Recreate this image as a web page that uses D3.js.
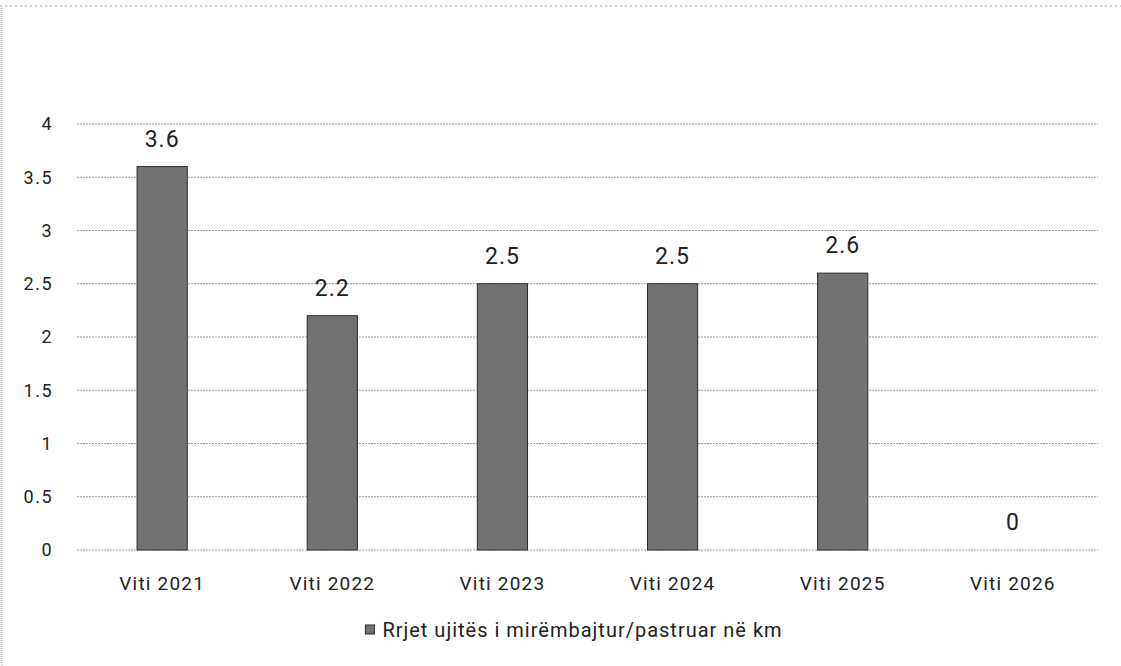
<!DOCTYPE html>
<html>
<head>
<meta charset="utf-8">
<script src="https://cdn.jsdelivr.net/npm/d3@7"></script>
<style>
  body { margin: 0; background: #fff; }
  text { font-family: Roboto, "Noto Sans", sans-serif; fill: #222; }
</style>
</head>
<body>
<div class="canvas"></div>
<script>
// what to show
var categories = ['Viti 2021', 'Viti 2022', 'Viti 2023', 'Viti 2024', 'Viti 2025', 'Viti 2026'],
    values = [3.6, 2.2, 2.5, 2.5, 2.6, 0],
    yTicks = [0, 0.5, 1, 1.5, 2, 2.5, 3, 3.5, 4],
    seriesName = 'Rrjet ujitës i mirëmbajtur/pastruar në km';

// where does it live
var W = 1121, H = 666,
    margin = {top: 124, right: 23, bottom: 116, left: 77},
    width = W - margin.left - margin.right,
    height = H - margin.top - margin.bottom;

var svg = d3.select('.canvas').append('svg')
    .attr('width', W)
    .attr('height', H);

// scan-like frame
svg.append('line')
    .attr('x1', 2).attr('x2', 2).attr('y1', 8).attr('y2', H)
    .attr('stroke', '#888').attr('stroke-dasharray', '1,1');
svg.append('line')
    .attr('x1', 0).attr('x2', W).attr('y1', 6).attr('y2', 6)
    .attr('stroke', '#aaa').attr('stroke-dasharray', '2,3');

var g = svg.append('g')
    .attr('transform', 'translate(' + margin.left + ',' + margin.top + ')');

var x = d3.scaleBand()
    .domain(categories)
    .range([0, width])
    .paddingInner(0.705)
    .paddingOuter(0.353);

var y = d3.scaleLinear()
    .domain([0, 4])
    .range([height, 0]);

// gridlines
g.selectAll('.grid')
    .data(yTicks)
    .enter()
    .append('line')
    .attr('x1', 0)
    .attr('x2', width)
    .attr('y1', function (d) { return y(d); })
    .attr('y2', function (d) { return y(d); })
    .attr('stroke', '#9a9a9a')
    .attr('stroke-width', 1)
    .attr('stroke-dasharray', '2,1');

// y axis labels
var yAxis = g.append('g')
    .call(d3.axisLeft(y).tickValues(yTicks).tickSize(0).tickPadding(0)
        .tickFormat(function (d) { return String(d); }));
yAxis.select('.domain').remove();
yAxis.selectAll('text')
    .attr('x', -24)
    .attr('font-size', 18)
    .attr('letter-spacing', 1.5)
    .attr('font-family', 'Roboto, sans-serif')
    .attr('fill', '#222');

// bars
g.selectAll('.bar')
    .data(values)
    .enter()
    .append('rect')
    .attr('x', function (d, i) { return x(categories[i]); })
    .attr('y', function (d) { return y(d); })
    .attr('width', x.bandwidth())
    .attr('height', function (d) { return height - y(d); })
    .attr('fill', '#727272')
    .attr('stroke', '#2a2a2a')
    .attr('stroke-width', 1);

// value labels
g.selectAll('.val')
    .data(values)
    .enter()
    .append('text')
    .attr('x', function (d, i) { return x(categories[i]) + x.bandwidth() / 2; })
    .attr('y', function (d) { return y(d) - 20; })
    .attr('text-anchor', 'middle')
    .attr('font-size', 23)
    .attr('letter-spacing', 1)
    .text(function (d) { return String(d); });

// x axis labels
var xAxis = g.append('g')
    .attr('transform', 'translate(0,' + height + ')')
    .call(d3.axisBottom(x).tickSize(0).tickPadding(0));
xAxis.select('.domain').remove();
xAxis.selectAll('text')
    .attr('dy', null)
    .attr('y', 40)
    .attr('font-size', 19)
    .attr('letter-spacing', 1.2)
    .attr('font-family', 'Roboto, sans-serif')
    .attr('fill', '#222');

// legend
var legend = svg.append('g')
    .attr('transform', 'translate(' + (W / 2) + ',' + 637 + ')');
var legendText = legend.append('text')
    .attr('x', 22)
    .attr('y', 0)
    .attr('text-anchor', 'middle')
    .attr('font-size', 20)
    .attr('letter-spacing', 1)
    .text(seriesName);
var tw = legendText.node().getComputedTextLength();
legend.append('rect')
    .attr('x', 22 - tw / 2 - 17)
    .attr('y', -12)
    .attr('width', 9)
    .attr('height', 9)
    .attr('fill', '#727272')
    .attr('stroke', '#2a2a2a');
</script>
</body>
</html>
